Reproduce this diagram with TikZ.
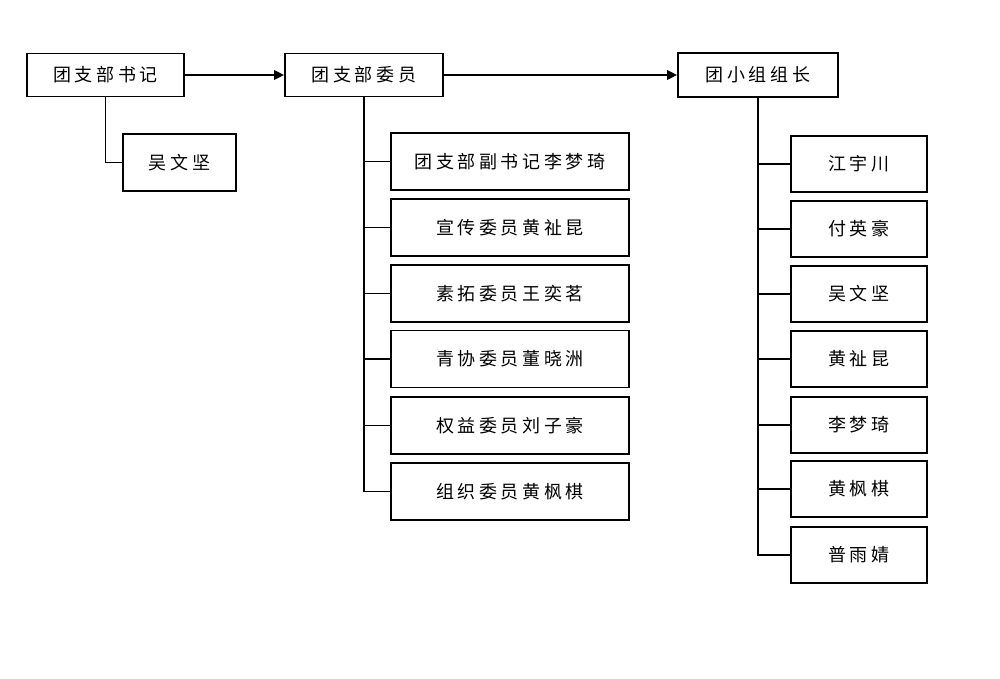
\documentclass[tikz,border=0pt]{standalone}
\usepackage{fontspec}
\setmainfont{Noto Sans CJK SC}[LetterSpace=20]
\usetikzlibrary{arrows.meta}
\newcommand{\px}{0.025cm}
\newcommand{\boxwidth}{1.4pt}
\tikzset{
	post/.style={draw, line width=\boxwidth, inner sep=0pt, font=\fontsize{12.8pt}{14pt}\selectfont},
	link/.style={line width=\boxwidth},
}

\begin{document}
\begin{tikzpicture}[x=\px, y=-\px]
	\useasboundingbox (0, 0) rectangle (1000, 678);

	% top row
	\node[post, minimum width=157*\px, minimum height=43*\px] (sec) at (105.5, 75) {团支部书记};
	\node[post, minimum width=158*\px, minimum height=43*\px] (cmte) at (364, 75) {团支部委员};
	\node[post, minimum width=160*\px, minimum height=44*\px] (lead) at (758, 75) {团小组组长};
	\node[post, minimum width=113*\px, minimum height=57*\px] (secA) at (179.5, 162.5) {吴文坚};

	\draw[link, -{Triangle[length=0.25cm, width=0.24cm]}] (sec) -- (cmte);
	\draw[link, -{Triangle[length=0.25cm, width=0.24cm]}] (cmte) -- (lead);
	\draw[link] (sec.south) |- (secA.west);

	% committee members
	\foreach \y/\name [count=\i] in {161.5/团支部副书记李梦琦, 227.5/宣传委员黄祉昆,
		293.5/素拓委员王奕茗, 359/青协委员董晓洲, 425.5/权益委员刘子豪, 491.5/组织委员黄枫棋}
	{
		\node[post, minimum width=238*\px, minimum height=57*\px] (m\i) at (510, \y) {\name};
		\draw[link] (cmte.south) |- (m\i.west);
	}

	% group leaders
	\foreach \y/\name [count=\i] in {164/江宇川, 229/付英豪, 294/吴文坚, 359/黄祉昆,
		425/李梦琦, 489/黄枫棋, 555/普雨婧}
	{
		\node[post, minimum width=136*\px, minimum height=56*\px] (g\i) at (859, \y) {\name};
		\draw[link] (lead.south) |- (g\i.west);
	}
\end{tikzpicture}
\end{document}
